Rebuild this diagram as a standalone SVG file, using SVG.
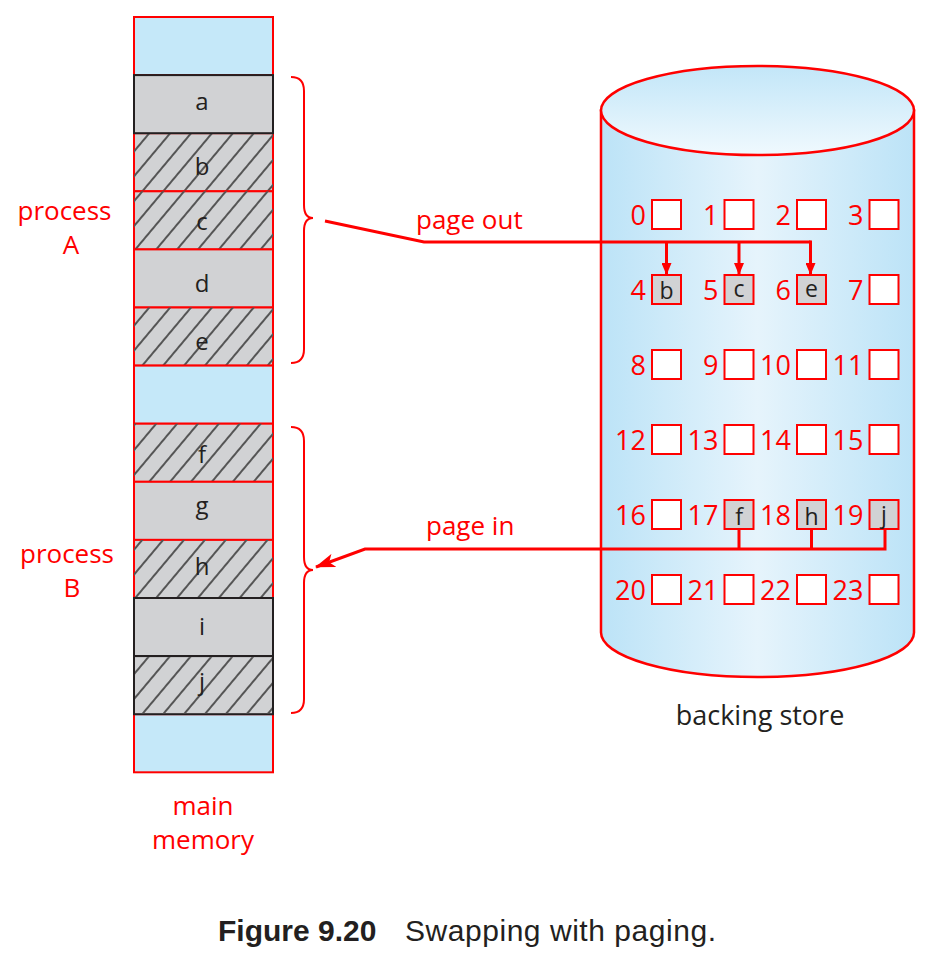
<svg xmlns="http://www.w3.org/2000/svg" width="933" height="965" viewBox="0 0 933 965">
<style>
.red{fill:#ff0000;font-family:"Open Sans","Noto Sans",sans-serif;}
.lbl{font-size:26px;}
.num{font-size:27px;text-anchor:end;}
.dark{fill:#231f20;font-family:"Open Sans","Noto Sans",sans-serif;}
.mem{font-size:24px;text-anchor:middle;}
.bx{font-size:23px;text-anchor:middle;}
.blue{fill:#c5e8f9;stroke:#ff0000;stroke-width:2;}
.gray{fill:#d1d2d4;stroke:#ff0000;stroke-width:2;}
.grayk{fill:#d1d2d4;stroke:#231f20;stroke-width:2;}
.hatch{fill:url(#hatch);stroke:none;}
.box{fill:#ffffff;stroke:#ff0000;stroke-width:2;}
.boxg{fill:#d1d2d4;stroke:#ff0000;stroke-width:2;}
.wire{fill:none;stroke:#ff0000;stroke-width:3;}
.brace{fill:none;stroke:#ff0000;stroke-width:2;}
</style>
<defs>
<pattern id="hatch" patternUnits="userSpaceOnUse" width="16" height="16" patternTransform="rotate(40)">
<line x1="8" y1="0" x2="8" y2="16" stroke="#555555" stroke-width="2"/>
</pattern>
<linearGradient id="body" x1="0" y1="0" x2="1" y2="0">
<stop offset="0" stop-color="#bce3f7"/>
<stop offset="0.5" stop-color="#e6f4fc"/>
<stop offset="1" stop-color="#bce3f7"/>
</linearGradient>
<linearGradient id="top" x1="0" y1="0" x2="0" y2="1">
<stop offset="0" stop-color="#c2e6f8"/>
<stop offset="1" stop-color="#f0f9fe"/>
</linearGradient>
<marker id="arr" viewBox="0 0 12 10" refX="11" refY="5" markerWidth="12" markerHeight="10" markerUnits="userSpaceOnUse" orient="auto">
<path d="M0,0 L12,5 L0,10 Z" fill="#ff0000"/>
</marker>
<marker id="arr2" viewBox="0 0 20 14" refX="19" refY="7" markerWidth="20" markerHeight="14" markerUnits="userSpaceOnUse" orient="auto">
<path d="M0,0 L20,7 L0,14 L5,7 Z" fill="#ff0000"/>
</marker>
</defs>
<rect width="933" height="965" fill="#ffffff"/>

<g id="main-memory">
<rect class="blue" x="134" y="17" width="139" height="58"/>
<rect class="gray" x="134" y="133.2" width="139" height="58.1"/><rect class="hatch" x="134" y="133.2" width="139" height="58.1"/>
<rect class="gray" x="134" y="191.3" width="139" height="58.1"/><rect class="hatch" x="134" y="191.3" width="139" height="58.1"/>
<rect class="gray" x="134" y="249.4" width="139" height="58.1"/>
<rect class="gray" x="134" y="307.5" width="139" height="58.1"/><rect class="hatch" x="134" y="307.5" width="139" height="58.1"/>
<rect class="blue" x="134" y="365.6" width="139" height="58.1"/>
<rect class="gray" x="134" y="423.7" width="139" height="58.1"/><rect class="hatch" x="134" y="423.7" width="139" height="58.1"/>
<rect class="gray" x="134" y="481.8" width="139" height="58.1"/>
<rect class="gray" x="134" y="539.9" width="139" height="58.1"/><rect class="hatch" x="134" y="539.9" width="139" height="58.1"/>
<rect class="blue" x="134" y="714.2" width="139" height="58.1"/>
<rect class="grayk" x="134" y="75.1" width="139" height="58.1"/>
<rect class="grayk" x="134" y="598" width="139" height="58.1"/>
<rect class="grayk" x="134" y="656.1" width="139" height="58.1"/><rect class="hatch" x="135" y="657.1" width="137" height="56.1"/>
<text class="dark mem" x="202" y="110">a</text>
<text class="dark mem" x="202" y="175">b</text>
<text class="dark mem" x="202" y="230">c</text>
<text class="dark mem" x="202" y="292">d</text>
<text class="dark mem" x="202" y="350">e</text>
<text class="dark mem" x="202" y="463">f</text>
<text class="dark mem" x="202" y="514">g</text>
<text class="dark mem" x="202" y="575">h</text>
<text class="dark mem" x="202" y="635">i</text>
<text class="dark mem" x="202" y="690">j</text>
<text class="red lbl" x="203" y="815" text-anchor="middle">main</text>
<text class="red lbl" x="203" y="849" text-anchor="middle">memory</text>
</g>

<g id="process-a">
<path class="brace" d="M291,77 Q304,77 304,91 L304,205 Q304,218 313,218 Q304,218 304,231 L304,349 Q304,363 291,363"/>
<text class="red lbl" x="64.5" y="220" text-anchor="middle">process</text>
<text class="red lbl" x="71" y="254" text-anchor="middle">A</text>
</g>

<g id="process-b">
<path class="brace" d="M291,427 Q304,427 304,441 L304,557 Q304,570 313,570 Q304,570 304,583 L304,699 Q304,713 291,713"/>
<text class="red lbl" x="67" y="563" text-anchor="middle">process</text>
<text class="red lbl" x="72" y="597" text-anchor="middle">B</text>
</g>

<g id="backing-store">
<path d="M601,110.5 L601,632.5 A156.5,44.5 0 0 0 914,632.5 L914,110.5 Z" fill="url(#body)" stroke="#ff0000" stroke-width="2.5"/>
<ellipse cx="757.5" cy="110.5" rx="156.5" ry="44.5" fill="url(#top)" stroke="#ff0000" stroke-width="2.5"/>
<g>
<rect class="box" x="652" y="200" width="29" height="29"/><rect class="box" x="724.5" y="200" width="29" height="29"/><rect class="box" x="797" y="200" width="29" height="29"/><rect class="box" x="869.5" y="200" width="29" height="29"/>
<rect class="boxg" x="652" y="275" width="29" height="29"/><rect class="boxg" x="724.5" y="275" width="29" height="29"/><rect class="boxg" x="797" y="275" width="29" height="29"/><rect class="box" x="869.5" y="275" width="29" height="29"/>
<rect class="box" x="652" y="350" width="29" height="29"/><rect class="box" x="724.5" y="350" width="29" height="29"/><rect class="box" x="797" y="350" width="29" height="29"/><rect class="box" x="869.5" y="350" width="29" height="29"/>
<rect class="box" x="652" y="425" width="29" height="29"/><rect class="box" x="724.5" y="425" width="29" height="29"/><rect class="box" x="797" y="425" width="29" height="29"/><rect class="box" x="869.5" y="425" width="29" height="29"/>
<rect class="box" x="652" y="500" width="29" height="29"/><rect class="boxg" x="724.5" y="500" width="29" height="29"/><rect class="boxg" x="797" y="500" width="29" height="29"/><rect class="boxg" x="869.5" y="500" width="29" height="29"/>
<rect class="box" x="652" y="575" width="29" height="29"/><rect class="box" x="724.5" y="575" width="29" height="29"/><rect class="box" x="797" y="575" width="29" height="29"/><rect class="box" x="869.5" y="575" width="29" height="29"/>
</g>
<g>
<text class="red num" x="646" y="225">0</text><text class="red num" x="718.5" y="225">1</text><text class="red num" x="791" y="225">2</text><text class="red num" x="863.5" y="225">3</text>
<text class="red num" x="646" y="300">4</text><text class="red num" x="718.5" y="300">5</text><text class="red num" x="791" y="300">6</text><text class="red num" x="863.5" y="300">7</text>
<text class="red num" x="646" y="375">8</text><text class="red num" x="718.5" y="375">9</text><text class="red num" x="791" y="375">10</text><text class="red num" x="863.5" y="375">11</text>
<text class="red num" x="646" y="450">12</text><text class="red num" x="718.5" y="450">13</text><text class="red num" x="791" y="450">14</text><text class="red num" x="863.5" y="450">15</text>
<text class="red num" x="646" y="525">16</text><text class="red num" x="718.5" y="525">17</text><text class="red num" x="791" y="525">18</text><text class="red num" x="863.5" y="525">19</text>
<text class="red num" x="646" y="600">20</text><text class="red num" x="718.5" y="600">21</text><text class="red num" x="791" y="600">22</text><text class="red num" x="863.5" y="600">23</text>
</g>
<text class="dark bx" x="666.5" y="299">b</text>
<text class="dark bx" x="739" y="297">c</text>
<text class="dark bx" x="811.5" y="297">e</text>
<text class="dark bx" x="739" y="525">f</text>
<text class="dark bx" x="811.5" y="525">h</text>
<text class="dark bx" x="884" y="523">j</text>
<text class="dark" x="760" y="725" font-size="27" text-anchor="middle">backing store</text>
</g>

<g id="connectors">
<polyline class="wire" points="325,221 424,242 810.5,242"/>
<line class="wire" x1="666.5" y1="242" x2="666.5" y2="274" marker-end="url(#arr)"/>
<line class="wire" x1="739" y1="242" x2="739" y2="274" marker-end="url(#arr)"/>
<line class="wire" x1="810.5" y1="240.5" x2="810.5" y2="274" marker-end="url(#arr)"/>
<polyline class="wire" points="739,530 739,549"/>
<polyline class="wire" points="811.5,530 811.5,549"/>
<polyline class="wire" points="885,530 885,549 365,549 316,567" marker-end="url(#arr2)"/>
<text class="red lbl" x="416" y="229">page out</text>
<text class="red lbl" x="426" y="535">page in</text>
</g>

<g id="caption">
<text x="218" y="941" font-family="'Liberation Sans',Arial,sans-serif" font-size="30" font-weight="bold" fill="#231f20">Figure 9.20</text>
<text x="405" y="941" font-family="'Liberation Sans',Arial,sans-serif" font-size="30" fill="#231f20" textLength="311" lengthAdjust="spacing">Swapping with paging.</text>
</g>
</svg>
